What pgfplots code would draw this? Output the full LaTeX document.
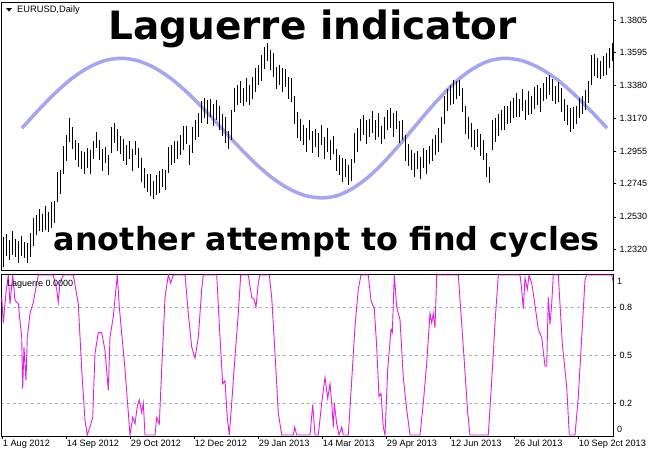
\documentclass[border=0pt]{standalone}
\usepackage{fontspec}
\setmainfont{Liberation Sans}
\newfontfamily\titlefont{DejaVu Sans}
\usepackage{pgfplots}
\usepackage{pgfplotstable}
\pgfplotsset{compat=1.18}

\definecolor{sinecol}{RGB}{165,165,240}
\definecolor{lagcol}{RGB}{225,30,225}

% daily bars: x position, middle of bar, half of high-low range
\pgfplotstableread{
x m h
3 1.2302 0.0097
6 1.2347 0.0071
9 1.2315 0.0065
12 1.2360 0.0078
15 1.2328 0.0058
18 1.2302 0.0071
21 1.2341 0.0065
24 1.2315 0.0052
27 1.2296 0.0065
30 1.2347 0.0078
33 1.2432 0.0091
36 1.2477 0.0065
39 1.2509 0.0071
42 1.2490 0.0058
45 1.2522 0.0078
48 1.2496 0.0065
51 1.2542 0.0084
54 1.2561 0.0071
57 1.2723 0.0097
60 1.2756 0.0078
63 1.2898 0.0091
66 1.2976 0.0084
69 1.3092 0.0078
72 1.3041 0.0071
75 1.2963 0.0065
78 1.2931 0.0078
81 1.2898 0.0058
84 1.2879 0.0071
87 1.2911 0.0065
90 1.2885 0.0078
93 1.2963 0.0058
96 1.3028 0.0052
99 1.2963 0.0065
102 1.2898 0.0071
105 1.2931 0.0052
108 1.2866 0.0065
111 1.3028 0.0084
114 1.3073 0.0065
117 1.3028 0.0071
120 1.2995 0.0058
123 1.2963 0.0071
126 1.2931 0.0065
129 1.2963 0.0058
132 1.2898 0.0071
135 1.2976 0.0045
138 1.2911 0.0065
141 1.2833 0.0078
144 1.2782 0.0065
147 1.2749 0.0058
150 1.2736 0.0071
153 1.2704 0.0058
156 1.2736 0.0065
159 1.2756 0.0071
162 1.2782 0.0058
165 1.2769 0.0065
168 1.2898 0.0084
171 1.2931 0.0065
174 1.2950 0.0071
177 1.2963 0.0058
180 1.2995 0.0065
183 1.3041 0.0078
186 1.3060 0.0058
189 1.2931 0.0065
192 1.3028 0.0084
195 1.3092 0.0065
198 1.3125 0.0078
201 1.3209 0.0071
204 1.3235 0.0065
207 1.3209 0.0078
210 1.3235 0.0058
213 1.3190 0.0071
216 1.3222 0.0065
219 1.3170 0.0078
222 1.3125 0.0071
225 1.3092 0.0084
228 1.3028 0.0058
231 1.3125 0.0097
234 1.3287 0.0078
237 1.3319 0.0065
240 1.3339 0.0071
243 1.3306 0.0058
246 1.3352 0.0078
249 1.3319 0.0065
252 1.3365 0.0071
255 1.3416 0.0078
258 1.3449 0.0065
261 1.3494 0.0084
264 1.3559 0.0071
267 1.3598 0.0058
270 1.3546 0.0065
273 1.3513 0.0078
276 1.3429 0.0071
279 1.3449 0.0065
282 1.3416 0.0078
285 1.3429 0.0058
288 1.3365 0.0071
291 1.3352 0.0078
294 1.3222 0.0091
297 1.3125 0.0084
300 1.3092 0.0071
303 1.3060 0.0065
306 1.3028 0.0078
309 1.3092 0.0065
312 1.3015 0.0071
315 1.3041 0.0058
318 1.2995 0.0078
321 1.3060 0.0065
324 1.2976 0.0071
327 1.3028 0.0078
330 1.2963 0.0065
333 1.2995 0.0058
336 1.2898 0.0071
339 1.2866 0.0065
342 1.2833 0.0078
345 1.2846 0.0058
348 1.2801 0.0065
351 1.2833 0.0071
354 1.2976 0.0097
357 1.3028 0.0078
360 1.3092 0.0071
363 1.3125 0.0065
366 1.3079 0.0078
369 1.3105 0.0058
372 1.3144 0.0071
375 1.3092 0.0065
378 1.3125 0.0078
381 1.3060 0.0058
384 1.3105 0.0071
387 1.3157 0.0065
390 1.3170 0.0065
393 1.3125 0.0078
396 1.3157 0.0058
399 1.3079 0.0071
402 1.3092 0.0065
405 1.2976 0.0084
408 1.2931 0.0071
411 1.2898 0.0065
414 1.2866 0.0078
417 1.2898 0.0058
420 1.2846 0.0071
423 1.2911 0.0065
426 1.2885 0.0078
429 1.2931 0.0058
432 1.2963 0.0071
435 1.2995 0.0065
438 1.3028 0.0078
441 1.3092 0.0084
444 1.3222 0.0091
447 1.3287 0.0071
450 1.3319 0.0065
453 1.3339 0.0078
456 1.3352 0.0058
459 1.3365 0.0052
462 1.3287 0.0078
465 1.3157 0.0091
468 1.3105 0.0071
471 1.3060 0.0078
474 1.3028 0.0065
477 1.3041 0.0058
480 1.2995 0.0071
483 1.2963 0.0065
486 1.2866 0.0078
489 1.2801 0.0052
492 1.3060 0.0097
495 1.3092 0.0078
498 1.3125 0.0071
501 1.3157 0.0065
504 1.3170 0.0078
507 1.3190 0.0058
510 1.3209 0.0071
513 1.3235 0.0065
516 1.3254 0.0078
519 1.3235 0.0058
522 1.3287 0.0071
525 1.3222 0.0065
528 1.3267 0.0078
531 1.3254 0.0058
534 1.3300 0.0071
537 1.3319 0.0065
540 1.3287 0.0078
543 1.3339 0.0058
546 1.3365 0.0071
549 1.3384 0.0065
552 1.3352 0.0071
555 1.3319 0.0058
558 1.3339 0.0065
561 1.3287 0.0078
564 1.3222 0.0071
567 1.3190 0.0065
570 1.3157 0.0078
573 1.3170 0.0071
576 1.3190 0.0058
579 1.3235 0.0065
582 1.3254 0.0058
585 1.3287 0.0065
588 1.3339 0.0071
591 1.3481 0.0097
594 1.3513 0.0071
597 1.3494 0.0065
600 1.3481 0.0058
603 1.3507 0.0065
606 1.3520 0.0071
609 1.3559 0.0065
612 1.3598 0.0058
}\bars

\begin{document}
\begin{tikzpicture}
\pgfplotsset{
  every axis/.append style={
    scale only axis, width=612pt, xmin=1, xmax=613,
    axis line style={line width=0.6pt},
    tick align=outside, major tick length=3pt,
    tick style={black, line width=0.5pt},
    ticklabel style={font=\fontsize{9}{10}\selectfont},
    ytick pos=right, yticklabel pos=right,
  }
}
% price panel
\begin{axis}[at={(1pt,-2pt)}, anchor=north west, height=268pt,
  ymin=1.2186, ymax=1.3922, xtick=\empty,
  ytick={1.2320,1.2530,1.2745,1.2955,1.3170,1.3380,1.3595,1.3805},
  yticklabel style={anchor=west, /pgf/number format/fixed,
    /pgf/number format/fixed zerofill, /pgf/number format/precision=4,
    /pgf/number format/assume math mode=true}]
\addplot[sinecol, line width=3.5pt, smooth] coordinates {
 (22,1.3105) (38.5,1.3222) (55,1.3331) (71.5,1.3425) (88,1.3496) (104.5,1.3542)
 (121,1.3557) (137.75,1.3542) (154.5,1.3496) (171.25,1.3425) (188,1.3331)
 (204.75,1.3222) (221.5,1.3105) (238.25,1.2988) (255,1.2879) (271.75,1.2785)
 (288.5,1.2714) (305.25,1.2668) (322,1.2653) (337.25,1.2668) (352.5,1.2714)
 (367.75,1.2785) (383,1.2879) (398.25,1.2988) (413.5,1.3105) (428.75,1.3222)
 (444,1.3331) (459.25,1.3425) (474.5,1.3496) (489.75,1.3542) (505,1.3557)
 (522,1.3542) (539,1.3496) (556,1.3425) (573,1.3331) (590,1.3222) (607,1.3105)
};
\addplot[draw=none, mark=none, error bars/.cd, y dir=both, y explicit,
  error mark=none, error bar style={draw=black, line width=0.7pt, line cap=butt}]
  table[x=x, y=m, y error=h] {\bars};
\end{axis}

% Laguerre panel
\begin{axis}[at={(1pt,-274pt)}, anchor=north west, height=162pt,
  ymin=-0.006, ymax=1.006,
  ytick={0.2,0.5,0.8}, yticklabels={0.2,0.5,0.8},
  yticklabel style={anchor=west},
  ymajorgrids, grid style={gray!60, dash pattern=on 3pt off 3pt, line width=0.5pt},
  xtick pos=bottom,
  xtick={2.7,66.7,130.7,194.7,258.7,322.7,386.7,450.7,514.7,578.7},
  % the last label is overdrawn by the terminal's right-edge date, as in the picture
  xticklabels={1 Aug 2012,14 Sep 2012,29 Oct 2012,12 Dec 2012,29 Jan 2013,14 Mar 2013,29 Apr 2013,12 Jun 2013,26 Jul 2013,10 Sep 2ct 2013},
  xticklabel style={anchor=north west, inner xsep=0pt, yshift=2.5pt, font=\fontsize{9.2}{10}\selectfont}]
\addplot[lagcol, line width=0.9pt] coordinates {
 (1.7,0.86) (3.3,0.70) (6,0.89) (8.3,1.0) (10,0.82) (12.7,1.0) (15,0.84) (18.3,0.82)
 (21.7,0.61) (22.7,0.29) (24,0.55) (26,0.34) (27.3,0.61) (30,0.76) (33.3,0.83)
 (38.3,1.0) (53.3,1.0) (56.7,0.91) (58.3,0.83) (60,0.95) (63.3,1.0) (73.3,1.0)
 (78.3,0.82) (81.7,0.41) (85,0.09) (87.3,0) (90,0.05) (92.7,0.11) (95,0.51)
 (98.3,0.64) (101.7,0.64) (105,0.53) (108.3,0.28) (110,0.61) (113.3,0.74)
 (117.3,1.0) (119.3,0.80) (125,0.41) (130,0) (132.7,0.11) (135,0.07) (137.3,0.18)
 (139.3,0.22) (141.7,0.14) (143.3,0.20) (145,0) (155,0) (156.7,0.11) (159.3,0.07)
 (161.7,0.41) (165,0.86) (168.3,1.0) (170.7,0.95) (173.3,1.0) (185,1.0) (188.3,0.76)
 (191.7,0.55) (195,0.48) (198.3,0.61) (201.7,0.91) (203.3,1.0) (216.7,1.0) (220,0.61)
 (222.7,0.32) (225,0.34) (227.3,0.11) (229.3,0) (231.7,0.20) (235,0.49) (238.3,0.76)
 (240.7,1.0) (248.3,1.0) (251.7,0.86) (254,0.85) (256,0.80) (258.3,0.95) (260,1.0)
 (269.3,1.0) (271.7,0.86) (275,0.51) (278.3,0.14) (281.7,0) (293.3,0) (294.7,0.05)
 (296.7,0) (310,0) (312.7,0.19) (315,0) (318.3,0) (321.7,0.20) (325,0.36) (327.7,0.23)
 (330,0.32) (331.7,0.20) (333.3,0.05) (334.3,0.20) (336.7,0.07) (339,0) (341.7,0.05)
 (343.3,0) (348.3,0) (351.7,0.34) (355,0.68) (358.3,0.91) (361,1.0) (368.3,1.0)
 (371,0.84) (374.3,0.79) (376.7,0.55) (379,0.24) (381,0.26) (383.3,0.05) (385,0)
 (387.7,0.41) (391,0.66) (392.3,0.64) (394.3,1.0) (396.7,0.80) (400,0.72) (403.3,0.36)
 (406.7,0.16) (410,0) (420,0) (423.3,0.20) (426.7,0.45) (430,0.76) (431.7,0.70)
 (433.3,0.76) (435,0.67) (436.7,1.0) (458.3,1.0) (463.3,0.55) (467.7,0.14) (470,0)
 (488.3,0) (491.7,0.34) (495,0.70) (498.3,1.0) (520,1.0) (521.7,0.91) (523.3,0.79)
 (525,0.98) (527.3,0.91) (529,1.0) (531.7,0.95) (534.3,0.84) (538.3,0.66) (541.7,0.61)
 (545,0.43) (546.7,0.43) (548.3,0.86) (550,0.69) (551.7,0.82) (553.3,1.0) (558.3,1.0)
 (562.3,0.57) (566.7,0.30) (569.3,0) (575,0) (578.3,0.24) (581.7,0.61) (585,0.97)
 (586.7,1.0) (611.7,1.0) (613,0.96)
};
\end{axis}

% texts drawn over the chart
\node[anchor=base, inner sep=0pt, font={\titlefont\bfseries\fontsize{39}{44}\selectfont}]
  at (312.5pt,-39.3pt) {Laguerre indicator};
\node[anchor=base, inner sep=0pt, font={\titlefont\bfseries\fontsize{31.8}{36}\selectfont}]
  at (326.7pt,-250pt) {another attempt to find cycles};
\fill (6pt,-8pt) -- (12pt,-8pt) -- (9pt,-11.5pt) -- cycle;
\node[anchor=west, inner sep=0pt, font=\fontsize{9.3}{10}\selectfont] at (17pt,-10pt) {EURUSD,Daily};
\node[anchor=west, inner sep=0pt, font=\fontsize{9}{10}\selectfont] at (7pt,-284pt) {Laguerre 0.0000};
\node[anchor=west, inner sep=0pt, font=\fontsize{9}{10}\selectfont] at (617pt,-281.5pt) {1};
\node[anchor=west, inner sep=0pt, font=\fontsize{9}{10}\selectfont] at (617pt,-429.5pt) {0};
\pgfresetboundingbox
\useasboundingbox (0,0) rectangle (650pt,-450pt);
\end{tikzpicture}
\end{document}
